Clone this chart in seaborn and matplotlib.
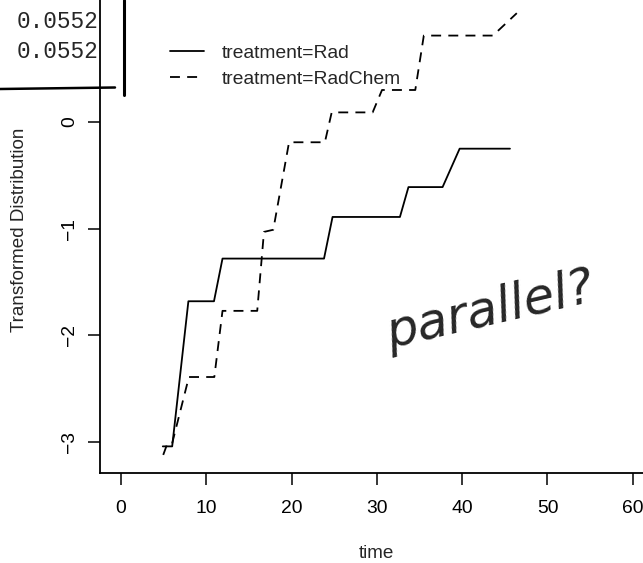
import matplotlib
matplotlib.use("Agg")
import matplotlib.pyplot as plt
from matplotlib.lines import Line2D
from matplotlib.patches import Rectangle
import pandas as pd
import seaborn as sns

# step curves (time, transformed distribution)
rad_time = [4.9, 6.0, 7.9, 10.9, 11.9, 23.8, 24.8, 32.7, 33.7, 37.7, 39.7, 45.6]
rad_value = [-3.04, -3.04, -1.68, -1.68, -1.28, -1.28, -0.89, -0.89, -0.61, -0.61, -0.25, -0.25]
radchem_time = [4.95, 5.36, 5.94, 7.96, 10.94, 11.9, 15.97, 16.76, 17.85, 19.7,
                23.9, 24.7, 29.5, 30.6, 34.5, 35.5, 43.6, 46.4]
radchem_value = [-3.12, -3.03, -3.03, -2.39, -2.39, -1.77, -1.77, -1.03, -1.01, -0.19,
                 -0.19, 0.09, 0.09, 0.30, 0.30, 0.81, 0.81, 1.02]
groups = ["treatment=Rad", "treatment=RadChem"]

x_ticks = [0, 10, 20, 30, 40, 50, 60]
y_ticks = [-3, -2, -1, 0]
y_tick_labels = ["\u22123", "\u22122", "\u22121", "0"]
table_values = ["0.0552", "0.0552"]

W, H = 643, 563


def fx(px):
    return px / W


def fy(py):
    return 1 - py / H


df = pd.concat([
    pd.DataFrame({"time": rad_time, "value": rad_value, "treatment": groups[0]}),
    pd.DataFrame({"time": radchem_time, "value": radchem_value, "treatment": groups[1]}),
], ignore_index=True)

sns.set_style("ticks")
plt.rcParams["font.family"] = ["Liberation Sans", "DejaVu Sans"]

fig = plt.figure(figsize=(W / 100, H / 100), dpi=100)
fig.patch.set_facecolor("white")
# axes box runs past the top and right edge, as in the cropped scan
ax = fig.add_axes([fx(100), fy(472.7), fx(680) - fx(100), fy(-20) - fy(472.7)])
ax.set_facecolor("white")

sns.lineplot(
    data=df, x="time", y="value", style="treatment", style_order=groups,
    dashes={groups[0]: "", groups[1]: (5.5, 4)},
    color="black", linewidth=1.3, estimator=None, sort=False, legend=False, ax=ax,
)

px_per_x = 8.53
px_per_y = 106.7
ax.set_xlim((100 - 121) / px_per_x, (680 - 121) / px_per_x)
ax.set_ylim((122 - 472.7) / px_per_y, (122 + 20) / px_per_y)

ax.set_xticks(x_ticks)
ax.set_xticklabels([str(v) for v in x_ticks])
ax.set_yticks(y_ticks)
ax.set_yticklabels(y_tick_labels, rotation=90, va="center")
ax.tick_params(axis="both", direction="out", length=8.5, width=1.1, labelsize=13.9,
               colors="black")
ax.tick_params(axis="x", pad=11)
ax.tick_params(axis="y", pad=7)
ax.set_xlabel("")
ax.set_ylabel("")
for side in ["top", "right"]:
    ax.spines[side].set_visible(False)
for side in ["left", "bottom"]:
    ax.spines[side].set_linewidth(1.3)
    ax.spines[side].set_color("black")

fig.text(fx(376), fy(553), "time", ha="center", va="center", fontsize=13.6)
fig.text(fx(20), fy(230), "Transformed Distribution", rotation=90,
         ha="center", va="center", fontsize=13.6)

fig.legend(ax.lines[:2], groups, loc="upper left",
           bbox_to_anchor=(fx(170), fy(44)), frameon=False, borderpad=0,
           borderaxespad=0, handlelength=1.75, handletextpad=0.95,
           labelspacing=0.45, fontsize=13.9)

# handwritten note on the printout
fig.text(fx(490), fy(311), "parallel?", rotation=13, ha="center", va="center",
         fontsize=36, style="italic", family="DejaVu Sans")

# clipped table from the page above the plot
clip = Rectangle((0, 0), fx(97), 1, transform=fig.transFigure)
for i, val in enumerate(table_values):
    t = fig.text(fx(17), fy(22 + 30 * i), val, ha="left", va="center",
                 fontsize=16.4, family="Liberation Mono")
    t.set_clip_path(clip)
fig.add_artist(Line2D([0, fx(115)], [fy(89), fy(87.5)], color="black",
                      linewidth=1.8, transform=fig.transFigure))
fig.add_artist(Line2D([fx(124), fx(124)], [fy(0), fy(95)], color="black",
                      linewidth=2.2, transform=fig.transFigure))

fig.savefig("out.png", dpi=100)
